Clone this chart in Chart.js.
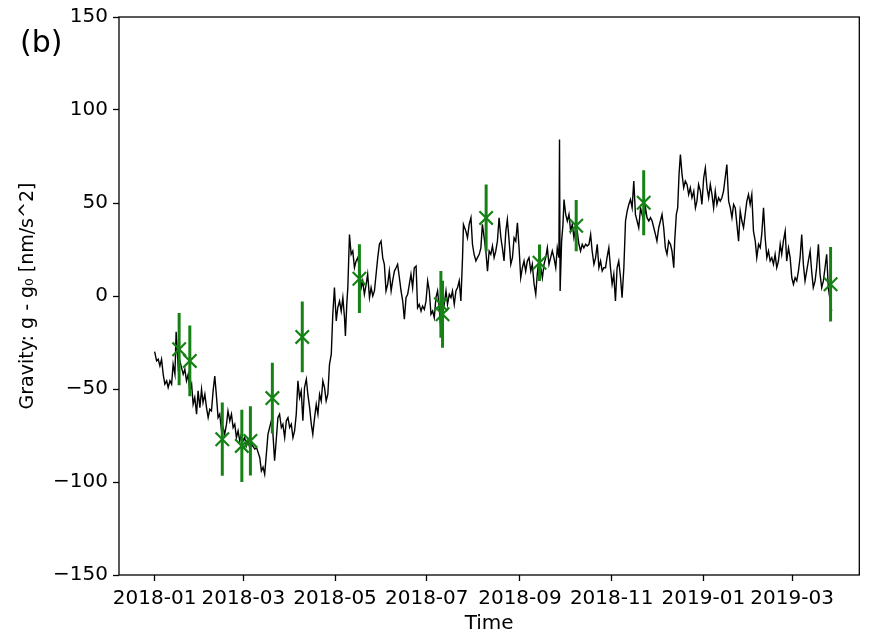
<!DOCTYPE html>
<html>
<head>
<meta charset="utf-8">
<script src="https://cdn.jsdelivr.net/npm/chart.js@4.4.1/dist/chart.umd.min.js"></script>
<style>
  html, body { margin: 0; padding: 0; background: #fff; }
  canvas { display: block; }
</style>
</head>
<body>
<canvas id="c" width="871" height="633"></canvas>
<script>
// Days are counted from 2018-01-01 (UTC).
const DAY0 = Date.UTC(2018, 0, 1);

// Month tick labels on the time axis
const tickLabels = ['2018-01', '2018-03', '2018-05', '2018-07', '2018-09', '2018-11', '2019-01', '2019-03'];
const tickDays = tickLabels.map(s => (Date.UTC(+s.slice(0, 4), +s.slice(5, 7) - 1, 1) - DAY0) / 864e5);

// Continuous gravity record: day offset and g - g0 [nm/s^2]
const recordDays = [
  0.0, 1.3, 2.4, 3.5, 4.6, 5.7, 6.8, 8.0, 9.0, 10.2, 11.3, 12.3, 13.5, 14.3, 15.7, 16.8, 17.9, 19.0, 20.1, 21.2,
  22.3, 23.4, 24.6, 25.6, 26.7, 27.9, 28.9, 30.1, 31.2, 32.2, 33.4, 34.5, 35.6, 36.7, 37.8, 38.9, 40.0, 41.1, 42.2, 43.3,
  44.5, 45.5, 46.6, 47.8, 48.8, 50.0, 51.1, 52.2, 53.3, 54.4, 55.5, 56.6, 57.7, 58.8, 59.9, 61.0, 62.1, 63.2, 64.4, 66.6,
  67.8, 69.9, 71.0, 72.1, 73.2, 74.3, 75.4, 76.5, 77.6, 78.7, 79.8, 81.0, 82.0, 83.1, 84.3, 85.3, 86.5, 87.6, 88.7, 89.8,
  90.9, 92.0, 93.1, 94.2, 95.3, 96.4, 97.5, 98.6, 99.7, 100.9, 101.9, 103.1, 104.2, 105.2, 106.4, 107.5, 108.6, 109.7, 110.8, 111.9,
  113.0, 114.1, 115.2, 116.3, 117.5, 118.5, 119.6, 120.8, 121.8, 123.0, 124.1, 125.2, 126.3, 126.9, 127.8, 128.5, 129.6, 130.7, 131.8, 132.9,
  134.0, 135.1, 136.2, 137.4, 138.4, 139.5, 140.7, 141.7, 142.9, 144.0, 145.1, 146.2, 147.3, 148.4, 149.5, 150.6, 151.7, 152.8, 153.9, 155.0,
  156.1, 157.3, 158.3, 159.5, 160.6, 161.6, 162.8, 163.9, 165.0, 166.1, 167.2, 168.3, 169.4, 170.5, 171.6, 172.7, 173.9, 174.9, 176.0, 177.2,
  178.2, 179.4, 180.5, 181.6, 182.7, 183.8, 184.9, 186.0, 187.1, 188.2, 189.3, 190.4, 191.5, 192.6, 193.8, 194.8, 196.0, 197.1, 198.1, 199.3,
  200.4, 201.5, 202.6, 203.7, 204.8, 205.4, 207.0, 208.1, 209.2, 210.4, 211.4, 212.5, 213.7, 214.7, 215.9, 217.0, 218.0, 219.2, 220.3, 221.4,
  222.5, 223.6, 224.7, 225.8, 226.9, 228.0, 229.1, 230.3, 231.3, 232.4, 233.6, 234.6, 235.8, 236.9, 238.0, 239.1, 240.2, 241.3, 242.4, 243.5,
  244.6, 245.7, 246.8, 247.9, 249.0, 250.2, 251.2, 252.4, 253.5, 254.5, 255.7, 256.8, 257.9, 259.0, 260.1, 261.2, 262.3, 263.4, 264.5, 265.6,
  266.8, 267.8, 268.9, 269.3, 269.7, 270.7, 271.6, 272.3, 273.4, 274.5, 275.6, 276.7, 277.8, 278.9, 280.0, 281.1, 282.2, 283.3, 284.4, 285.5,
  286.7, 287.7, 288.9, 290.0, 291.0, 292.2, 293.3, 294.4, 295.5, 296.6, 297.7, 298.8, 299.9, 300.9, 302.1, 303.2, 304.3, 305.4, 306.5, 307.6,
  308.7, 309.9, 310.9, 312.1, 313.2, 314.3, 315.4, 316.5, 317.6, 318.7, 319.8, 320.9, 322.0, 323.2, 324.2, 325.3, 326.5, 327.5, 328.7, 329.8,
  330.9, 332.0, 333.1, 334.1, 335.3, 336.4, 337.5, 338.6, 339.7, 340.8, 341.9, 343.1, 344.1, 345.3, 345.9, 347.0, 347.9, 348.8, 349.7, 350.8,
  351.9, 353.0, 354.1, 355.2, 356.3, 357.4, 358.6, 359.7, 360.7, 361.8, 363.0, 364.0, 365.2, 366.3, 367.4, 368.5, 369.6, 370.7, 371.8, 372.9,
  374.0, 375.1, 376.2, 377.3, 378.4, 380.6, 381.8, 382.9, 384.0, 385.1, 386.2, 387.3, 388.4, 389.5, 390.6, 391.7, 392.8, 393.9, 395.0, 396.1,
  397.2, 398.3, 399.5, 400.5, 401.7, 402.8, 403.8, 405.0, 406.1, 407.2, 408.3, 409.4, 410.5, 411.6, 412.7, 413.8, 414.9, 416.1, 417.1, 418.2,
  419.4, 420.4, 421.6, 422.7, 423.8, 424.9, 426.0, 427.1, 428.2, 429.3, 430.4, 431.5, 432.6, 433.7, 434.8, 436.0, 437.0, 438.1, 439.3, 440.3,
  441.5, 442.6, 443.7, 444.8, 445.9, 447.0, 448.1, 449.2, 450.3
];
const recordGravity = [
  -29.9, -34.9, -34.0, -37.6, -34.0, -42.1, -47.4, -45.6, -49.2, -45.6, -47.4, -36.7, -42.1, -19.2, -38.5, -34.9, -38.5, -42.1, -39.4, -45.6,
  -42.1, -51.0, -47.4, -58.2, -54.6, -63.5, -51.0, -60.0, -50.1, -57.3, -52.8, -60.0, -65.4, -60.9, -61.8, -51.0, -43.0, -53.7, -65.4, -63.5,
  -72.5, -70.7, -74.3, -68.9, -61.8, -67.1, -63.5, -70.7, -68.9, -76.1, -72.5, -77.9, -74.3, -77.9, -76.1, -80.6, -77.9, -81.5, -79.6, -82.3,
  -81.5, -86.8, -94.0, -92.0, -95.8, -85.0, -74.3, -70.7, -67.1, -74.3, -88.6, -76.1, -65.4, -63.5, -70.7, -68.9, -76.1, -67.1, -65.4, -70.7,
  -68.9, -76.1, -72.5, -63.5, -45.6, -54.6, -51.0, -67.1, -49.2, -44.7, -52.8, -60.0, -68.9, -74.3, -65.4, -58.2, -63.5, -52.8, -56.4, -45.6,
  -49.2, -56.4, -52.8, -36.7, -31.3, -9.8, 4.5, -13.4, -6.3, -2.7, -8.1, -0.9, -11.7, -21.5, -4.5, 4.5, 33.1, 22.4, 24.2, 15.2,
  18.8, 20.6, 15.2, 4.5, 8.1, 0.9, 6.3, 11.7, -0.9, 4.5, 0.0, 2.7, 11.7, 20.6, 27.8, 29.5, 20.6, 17.0, 2.7, 6.3,
  13.4, 2.7, 8.1, 13.4, 15.2, 17.0, 9.8, 2.7, -2.7, -12.5, -0.9, 0.9, 6.3, 11.7, 4.5, 15.2, 16.1, -6.3, -4.5, -8.1,
  -5.4, -7.2, -2.7, 8.1, 2.7, -9.8, -8.1, -11.7, -0.9, 2.7, -6.3, -18.8, -9.8, -4.5, 2.7, -4.5, 0.9, -0.9, 2.7, -4.5,
  2.7, 4.5, 8.1, -2.7, 20.6, 38.5, 34.9, 31.3, 38.5, 42.1, 27.8, 22.4, 18.8, 20.6, 22.4, 25.9, 38.5, 31.3, 24.2, 13.4,
  24.2, 22.4, 26.9, 20.6, 24.2, 29.5, 42.1, 31.3, 25.9, 18.8, 34.9, 41.2, 29.5, 17.0, 20.6, 31.3, 29.5, 39.4, 25.9, 9.8,
  15.2, 18.8, 13.4, 18.8, 20.6, 13.4, 17.0, 6.3, 0.9, 11.7, 20.6, 15.2, 9.8, 17.0, 20.6, 25.9, 17.0, 20.6, 24.2, 20.6,
  15.2, 25.9, 20.6, 84.2, 2.7, 29.5, 38.5, 51.9, 43.9, 40.3, 43.9, 34.9, 38.5, 31.3, 36.7, 34.9, 27.8, 24.2, 27.8, 25.9,
  27.8, 26.9, 27.8, 33.1, 24.2, 17.0, 20.6, 27.8, 15.2, 18.8, 13.4, 15.2, 15.2, 20.6, 25.9, 15.2, 6.3, 11.7, -2.7, 15.2,
  18.8, 9.8, -0.9, 15.2, 40.3, 45.6, 49.2, 51.9, 47.4, 61.8, 43.9, 40.3, 36.7, 47.4, 43.9, 40.3, 47.4, 42.1, 40.3, 42.1,
  40.3, 36.7, 33.1, 29.5, 36.7, 40.3, 43.9, 36.7, 25.9, 22.4, 29.5, 27.8, 24.2, 15.2, 29.5, 43.9, 47.4, 65.4, 76.1, 65.4,
  58.2, 61.8, 60.0, 54.6, 58.2, 52.8, 56.4, 47.4, 51.0, 60.0, 56.4, 49.2, 63.5, 68.9, 58.2, 52.8, 60.0, 54.6, 47.4, 56.4,
  49.2, 52.8, 51.0, 52.8, 56.4, 70.7, 51.0, 47.4, 42.1, 49.2, 47.4, 38.5, 29.5, 45.6, 40.3, 36.7, 43.9, 51.0, 54.6, 49.2,
  54.6, 34.9, 29.5, 20.6, 27.8, 25.9, 33.1, 47.4, 31.3, 20.6, 24.2, 18.8, 20.6, 17.0, 22.4, 15.2, 18.8, 27.8, 22.4, 29.5,
  34.9, 18.8, 25.9, 20.6, 9.8, 6.3, 9.8, 8.1, 13.4, 20.6, 33.1, 17.0, 8.1, 13.4, 18.8, 24.2, 13.4, 4.5, 8.1, 15.2,
  27.8, 11.7, 4.5, 8.1, 15.2, 22.4, 4.5, -2.0, -8.1
];

// Campaign measurements: day offset, g - g0 and its uncertainty [nm/s^2]
const measDays   = [16.3, 23.4, 45.0, 58.0, 63.7, 78.3, 98.2, 136.2, 190.4, 191.5, 220.5, 256.0, 280.4, 325.3, 449.6];
const measValues = [-28.6, -34.9, -77.0, -80.6, -77.9, -54.9, -22.0, 9.3, -4.5, -9.8, 42.0, 17.9, 37.8, 50.1, 6.3];
const measErrors = [19.4, 19.0, 19.7, 19.4, 18.6, 19.0, 19.0, 18.5, 18.0, 18.0, 18.0, 9.8, 13.8, 17.5, 20.0];

const yTickStep = 50;
const FONT = 'DejaVu Sans';
const FONT_SIZE = 20;
const GREEN = '#168216';

// Vertical error bars as separate segments broken by null gaps
const errorSegments = [];
measDays.forEach((d, i) => {
  errorSegments.push({ x: d, y: measValues[i] - measErrors[i] });
  errorSegments.push({ x: d, y: measValues[i] + measErrors[i] });
  errorSegments.push({ x: d, y: null });
});

// Box around the plotting area and the panel letter
const framePlugin = {
  id: 'frame',
  afterDatasetsDraw(chart) {
    const { ctx, chartArea: a } = chart;
    ctx.save();
    ctx.strokeStyle = '#000';
    ctx.lineWidth = 1.3;
    ctx.strokeRect(a.left, a.top, a.right - a.left, a.bottom - a.top);
    ctx.restore();
  },
  afterDraw(chart) {
    const ctx = chart.ctx;
    ctx.save();
    ctx.fillStyle = '#000';
    ctx.font = '30px "' + FONT + '"';
    ctx.textBaseline = 'alphabetic';
    ctx.textAlign = 'left';
    ctx.fillText('(b)', 20, 52);
    ctx.restore();
  }
};

new Chart(document.getElementById('c'), {
  type: 'line',
  data: {
    datasets: [
      {
        label: 'measurements',
        data: measDays.map((d, i) => ({ x: d, y: measValues[i] })),
        showLine: false,
        pointStyle: 'crossRot',
        pointRadius: 9.5,
        pointBorderWidth: 2.2,
        borderColor: GREEN,
        backgroundColor: GREEN
      },
      {
        label: 'uncertainty',
        data: errorSegments,
        borderColor: GREEN,
        borderWidth: 3,
        pointRadius: 0,
        spanGaps: false
      },
      {
        label: 'gravity',
        data: recordDays.map((d, i) => ({ x: d, y: recordGravity[i] })),
        borderColor: '#000',
        borderWidth: 1.4,
        pointRadius: 0,
        tension: 0
      }
    ]
  },
  options: {
    responsive: false,
    animation: false,
    devicePixelRatio: 1,
    layout: { padding: { top: 16, right: 10, bottom: 0, left: 0 } },
    plugins: { legend: { display: false }, tooltip: { enabled: false } },
    scales: {
      x: {
        type: 'linear',
        min: -23.7,
        max: 468.7,
        afterBuildTicks(scale) { scale.ticks = tickDays.map(v => ({ value: v })); },
        afterFit(scale) { scale.height = 58; },
        ticks: {
          callback: (v, i) => tickLabels[i],
          autoSkip: false,
          maxRotation: 0,
          padding: 6,
          color: '#000',
          font: { family: FONT, size: FONT_SIZE }
        },
        grid: { display: true, drawOnChartArea: false, drawTicks: true, tickLength: 6, tickWidth: 1.3, color: '#000' },
        border: { display: false },
        title: { display: true, text: 'Time', color: '#000', font: { family: FONT, size: FONT_SIZE }, padding: { top: 0, bottom: -3 } }
      },
      y: {
        type: 'linear',
        min: -150,
        max: 150,
        afterFit(scale) { scale.width = 119; },
        ticks: {
          stepSize: yTickStep,
          padding: 5,
          color: '#000',
          font: { family: FONT, size: FONT_SIZE },
          callback: v => String(v).replace('-', '\u2212')
        },
        grid: { display: true, drawOnChartArea: false, drawTicks: true, tickLength: 6, tickWidth: 1.3, color: '#000' },
        border: { display: false },
        title: { display: true, text: 'Gravity: g - g\u2080 [nm/s^2]', color: '#000', font: { family: FONT, size: 19 }, padding: { top: 17, bottom: 0 } }
      }
    }
  },
  plugins: [framePlugin]
});
</script>
</body>
</html>
